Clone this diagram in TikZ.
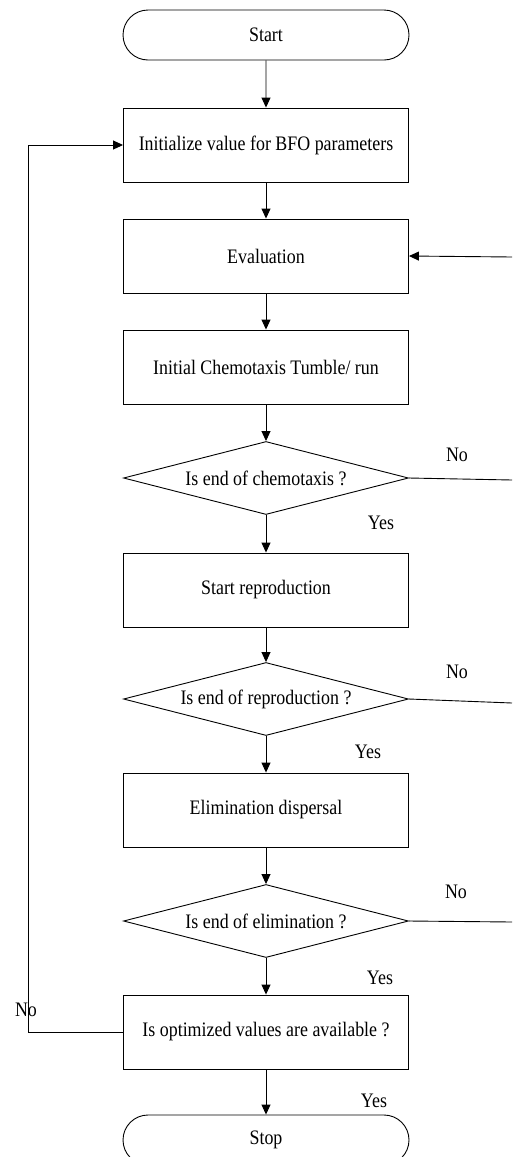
\documentclass[tikz,border=0pt]{standalone}
\usepackage{fontspec}
\setmainfont{Liberation Serif}
\usetikzlibrary{shapes.geometric,shapes.misc,arrows.meta}
% text is set slightly taller than wide
\newcommand{\tall}[1]{\scalebox{1}[1.15]{#1}}
\begin{document}
\begin{tikzpicture}[x=1pt,y=-1pt,
  txt/.style={font=\fontsize{17.9}{20}\selectfont,inner sep=0pt},
  flowbox/.style={txt,draw,line width=0.9pt,rectangle,minimum width=285pt,minimum height=74pt},
  terminal/.style={txt,draw,line width=0.9pt,rounded rectangle,minimum width=286pt,minimum height=50pt},
  decision/.style={txt,draw,line width=0.9pt,diamond,aspect=3.86,minimum width=285pt,minimum height=73pt},
  flow/.style={draw,line width=0.9pt,-{Triangle[length=10pt,width=9pt]}},
  plain/.style={draw,line width=0.9pt},
  lbl/.style={txt}
]
\useasboundingbox (0,0) rectangle (512,1157);

% main column
\node[terminal] (start) at (266,35)  {\tall{Start}};
\node[flowbox]  (init)  at (266,145) {\tall{Initialize value for BFO parameters}};
\node[flowbox]  (eval)  at (266,256) {\tall{Evaluation}};
\node[flowbox]  (chem)  at (266,367) {\tall{Initial Chemotaxis Tumble/ run}};
\node[decision] (d1)    at (266,478) {\tall{Is end of chemotaxis ?}};
\node[flowbox]  (repro) at (266,590) {\tall{Start reproduction}};
\node[decision] (d2)    at (266,699) {\tall{Is end of reproduction ?}};
\node[flowbox]  (elim)  at (266,810) {\tall{Elimination dispersal}};
\node[decision] (d3)    at (266,921) {\tall{Is end of elimination ?}};
\node[flowbox]  (opt)   at (266,1032) {\tall{Is optimized values are available ?}};
\node[terminal] (stop)  at (266,1140) {\tall{Stop}};

% free ends at the right border
\coordinate (e0) at (512,257);
\coordinate (e1) at (512,480);
\coordinate (e2) at (512,703);
\coordinate (e3) at (512,922);
\coordinate (back) at (28,1032);

% vertical flow
\path[flow] (start) -- (init);
\path[flow] (init) -- (eval);
\path[flow] (eval) -- (chem);
\path[flow] (chem) -- (d1);
\path[flow] (d1) -- (repro);
\path[flow] (repro) -- (d2);
\path[flow] (d2) -- (elim);
\path[flow] (elim) -- (d3);
\path[flow] (d3) -- (opt);
\path[flow] (opt) -- (stop);

% "No" branches
\path[plain] (d1.east) -- (e1);
\path[plain] (d2.east) -- (e2);
\path[plain] (d3.east) -- (e3);
\path[flow] (e0) -- (eval.east);
\path[flow] (opt.west) -- (back) |- (init.west);

% branch labels
\node[lbl] (no1)  at (457,455)  {\tall{No}};
\node[lbl] (no2)  at (457,672)  {\tall{No}};
\node[lbl] (no3)  at (456,892)  {\tall{No}};
\node[lbl] (no4)  at (26,1010)  {\tall{No}};
\node[lbl] (yes1) at (381,523)  {\tall{Yes}};
\node[lbl] (yes2) at (368,752)  {\tall{Yes}};
\node[lbl] (yes3) at (380,978)  {\tall{Yes}};
\node[lbl] (yes4) at (374,1101) {\tall{Yes}};
\end{tikzpicture}
\end{document}
